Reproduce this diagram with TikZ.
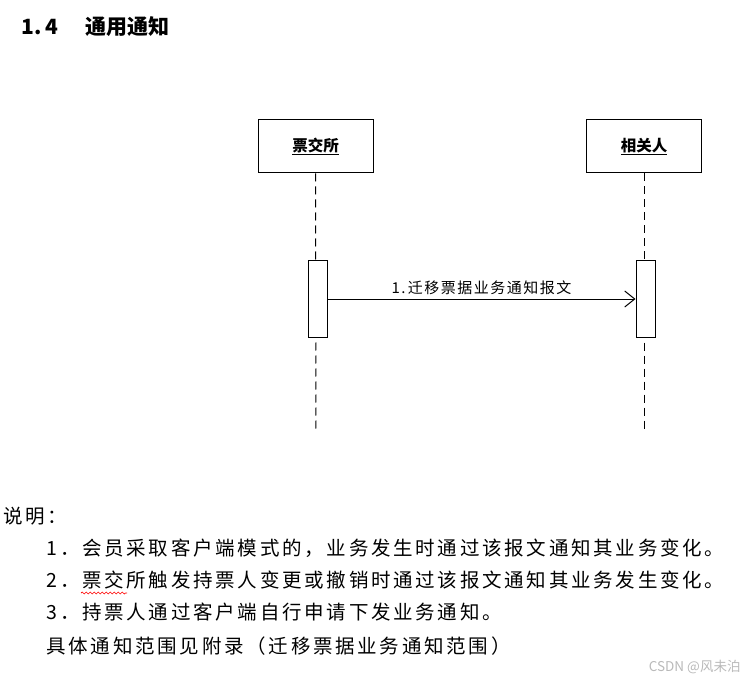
\documentclass[tikz,border=0pt]{standalone}
\usepackage{fontspec}
\setmainfont{Noto Sans CJK SC}
\usetikzlibrary{positioning,arrows.meta,decorations.pathmorphing}

\tikzset{
  actor/.style={draw, minimum width=115pt, minimum height=53pt,
    font=\fontsize{15.5}{18}\selectfont\bfseries},
  activation/.style={draw, fill=white, minimum width=19pt, minimum height=76pt},
  lifeline/.style={dash pattern=on 8pt off 5pt},
  msg/.style={-{Straight Barb[length=10pt,width=16pt,line width=1pt]}},
  explain/.style={anchor=west, inner sep=0pt,
    font=\fontsize{19.5}{24}\selectfont\addfontfeature{LetterSpace=14}},
}

\begin{document}
\begin{tikzpicture}[x=1pt, y=-1pt, line width=1pt]
    \useasboundingbox (0,0) rectangle (756,682);

    % Titulo de la seccion
    \node[anchor=west, inner sep=0pt, font=\fontsize{21}{24}\selectfont\bfseries]
        (title) at (21,27) {1.\,4\hspace{28pt}通用通知};

    % Participantes
    \node[actor] (jiao) at (315.5,146.5) {\underline{票交所}};
    \node[actor] (rel) at (644,146.5) {\underline{相关人}};

    % Lineas de vida
    \coordinate (jiaoEnd) at (316,431);
    \coordinate (relEnd) at (644,431);
    \draw[lifeline] (jiao.south) -- (jiaoEnd);
    \draw[lifeline] (rel.south) -- (relEnd);

    % Barras de activacion
    \node[activation] (jiaoAct) at (317.5,299) {};
    \node[activation] (relAct) at (645.5,299) {};

    % Mensaje
    \draw[msg] (jiaoAct.east) -- node[above, inner sep=4pt,
        font=\fontsize{15}{17}\selectfont\addfontfeature{LetterSpace=10}]
        (msgText) {1.\,迁移票据业务通知报文} (relAct.west);

    % Explicacion
    \node[explain] (note) at (3,516) {说明：};
    \node[explain] (item1) at (46,548) {1．会员采取客户端模式的，业务发生时通过该报文通知其业务变化。};
    \node[explain] (item2) at (46,580) {2．票交所触发持票人变更或撤销时通过该报文通知其业务发生变化。};
    \node[explain] (item3) at (46,612) {3．持票人通过客户端自行申请下发业务通知。};
    \node[explain] (scope) at (46,646) {具体通知范围见附录（迁移票据业务通知范围）};

    % Subrayado ondulado
    \draw[red, line width=0.7pt, decorate, decoration={snake, amplitude=1pt, segment length=4pt}]
        (81,593) -- (127,593);

    % Marca de agua
    \node[anchor=east, inner sep=0pt, text=gray!55, font=\fontsize{13.5}{16}\selectfont]
        (mark) at (741,667) {CSDN @风未泊};
\end{tikzpicture}
\end{document}
